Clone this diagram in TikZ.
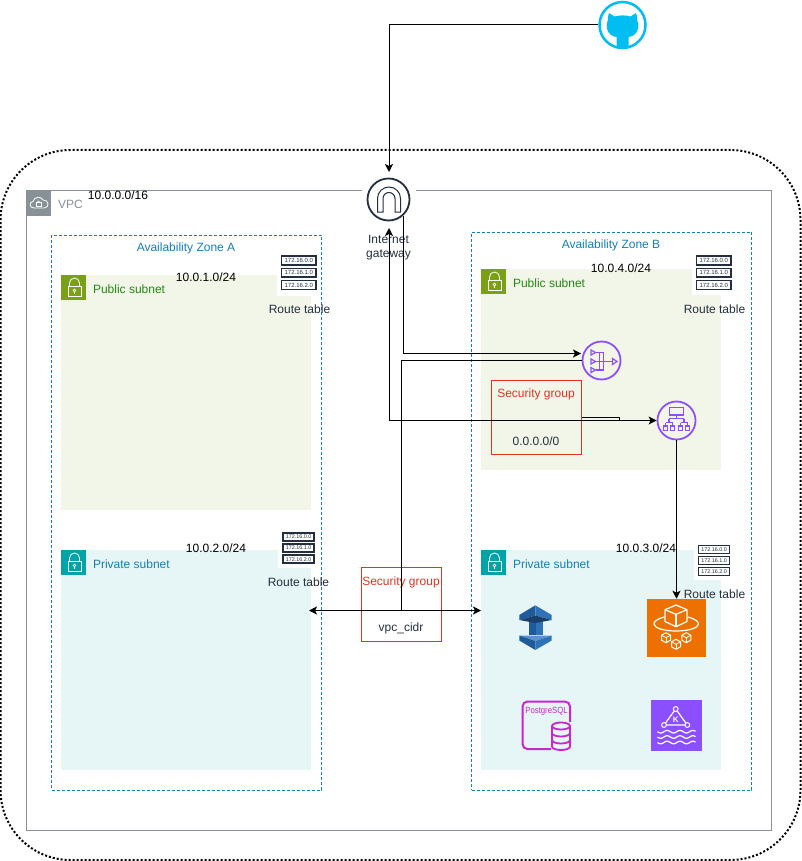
\documentclass[tikz,border=0pt]{standalone}
\usepackage{fontspec}
\setmainfont{Liberation Sans}
\newfontfamily\pgnarrow[FakeStretch=0.86]{Liberation Sans}
\usetikzlibrary{arrows.meta}
\definecolor{vpcgray}{HTML}{879196}
\definecolor{azblue}{HTML}{147EBA}
\definecolor{pubgreen}{HTML}{7AA116}
\definecolor{pubtext}{HTML}{248814}
\definecolor{pubfill}{HTML}{F2F6E8}
\definecolor{privteal}{HTML}{00A4A6}
\definecolor{privfill}{HTML}{E6F6F7}
\definecolor{awsdark}{HTML}{232F3E}
\definecolor{sgred}{HTML}{DD3522}
\definecolor{netpurple}{HTML}{8C4FFF}
\definecolor{ghblue}{HTML}{00BEF2}
\definecolor{ecsorange}{HTML}{ED7100}
\definecolor{pgpink}{HTML}{C925D1}
\definecolor{stackdark}{HTML}{205B99}
\definecolor{stackmid}{HTML}{2E73B8}
\definecolor{stacknavy}{HTML}{1B3F6B}
\definecolor{stacklight}{HTML}{5B94CC}
\tikzset{
    box/.style={rectangle,inner sep=0pt,outer sep=0pt},
    txt/.style={inner sep=0pt,outer sep=0pt,font=\fontsize{12}{14}\selectfont},
    azbox/.style={box,draw=azblue,line width=0.8pt,dash pattern=on 3pt off 2pt},
    sgbox/.style={box,draw=sgred,line width=1pt},
    conn/.style={line width=1pt,black,-{Stealth[length=8pt,width=8pt,inset=2pt]}},
    both/.style={conn,{Stealth[length=8pt,width=8pt,inset=2pt]}-{Stealth[length=8pt,width=8pt,inset=2pt]}}
}
% subnet corner with its lock
\newcommand{\subneticon}[3]{
    \begin{scope}[shift={(#1,#2)}]
        \fill[#3] (0,0) rectangle (25,25);
        \draw[white,line width=0.8pt] (7,11.5) rectangle (20,21.5);
        \draw[white,line width=0.8pt] (8.5,11.5) -- (8.5,8) arc[start angle=180,end angle=360,radius=5] -- (18.5,11.5);
        \draw[white,line width=0.7pt] (13.5,15.5) circle (1.4);
        \draw[white,line width=0.7pt] (13.5,17) -- (13.5,19);
    \end{scope}
}
% route table stack, #1 name, #2 #3 corner, #4 scale
\newcommand{\routetable}[4]{
    \begin{scope}[shift={(#2,#3)},scale=#4,transform shape]
        \foreach \r in {0,1,2} {
            \node[box,draw=awsdark,line width=1.5pt,fill=white,text=awsdark,minimum width=34.5pt,minimum height=8.8pt,
                font=\fontsize{6}{6}\selectfont] (#1\r) at (17.8,{5+12.3*\r}) {172.16.\r.0};
        }
    \end{scope}
}
\begin{document}
\begin{tikzpicture}[x=1pt,y=-1pt]
    \useasboundingbox (0,0) rectangle (802,861);

    % Outer boundary and VPC
    \node[box,draw=black,line width=2pt,dash pattern=on 2pt off 2pt,rounded corners=70pt,
        minimum width=800pt,minimum height=710pt] (boundary) at (400.5,505) {};
    \node[box,draw=vpcgray,line width=1pt,minimum width=745pt,minimum height=640pt] (vpc) at (399,510.5) {};
    \fill[vpcgray] (26.5,190.5) rectangle (51,215.5);
    \draw[white,line width=0.8pt] (34,208) .. controls (29,208) and (29,202) .. (33,201.5) .. controls (34,197) and (41,195.5) .. (43,200) .. controls (49,199.5) and (50,208) .. (44,208) -- cycle;
    \draw[white,line width=0.7pt] (36,202.5) rectangle (41,206.5);
    \draw[white,line width=0.6pt] (37,202.5) arc[start angle=180,end angle=360,radius=1.5];
    \node[txt,text=vpcgray,anchor=west] (vpclabel) at (58,204) {VPC};
    \node[txt] (vpccidr) at (118,195) {10.0.0.0/16};

    % Availability zones
    \node[azbox,minimum width=270pt,minimum height=555pt] (azA) at (186.5,512.5) {};
    \node[azbox,minimum width=280pt,minimum height=558pt] (azB) at (611.5,511) {};
    \node[txt,text=azblue] (azAlabel) at (186,248) {Availability Zone A};
    \node[txt,text=azblue] (azBlabel) at (611,245) {Availability Zone B};

    % Subnets
    \node[box,fill=pubfill,minimum width=250pt,minimum height=235pt] (pubA) at (186,392.5) {};
    \node[box,fill=pubfill,minimum width=240pt,minimum height=201pt] (pubB) at (601,369.5) {};
    \node[box,fill=privfill,minimum width=250pt,minimum height=220pt] (privA) at (186,660) {};
    \node[box,fill=privfill,minimum width=240pt,minimum height=220pt] (privB) at (601,660) {};
    \fill[white] (277,275) rectangle (311.5,296);
    \fill[white] (692,269) rectangle (721.5,295);
    \fill[white] (278,550) rectangle (311.5,568);
    \fill[white] (694,550) rectangle (721.5,580);
    \subneticon{61}{275}{pubgreen}
    \subneticon{481}{269}{pubgreen}
    \subneticon{61}{550}{privteal}
    \subneticon{481}{550}{privteal}
    \node[txt,text=pubtext,anchor=west] (pubAlabel) at (93,289) {Public subnet};
    \node[txt,text=pubtext,anchor=west] (pubBlabel) at (513,283) {Public subnet};
    \node[txt,text=azblue,anchor=west] (privAlabel) at (93,564) {Private subnet};
    \node[txt,text=azblue,anchor=west] (privBlabel) at (513,564) {Private subnet};
    \node[txt] (pubAcidr) at (206,277) {10.0.1.0/24};
    \node[txt] (pubBcidr) at (621,268) {10.0.4.0/24};
    \node[txt] (privAcidr) at (216,548) {10.0.2.0/24};
    \node[txt] (privBcidr) at (646,548) {10.0.3.0/24};

    % Route tables
    \routetable{rtA}{281}{255.5}{1}
    \routetable{rtB}{696}{255.5}{1}
    \routetable{rtC}{282.5}{532.5}{0.9}
    \routetable{rtD}{698}{545}{0.9}
    \node[txt,text=awsdark] (rtAlabel) at (299.5,309) {Route table};
    \node[txt,text=awsdark] (rtBlabel) at (714.5,309) {Route table};
    \node[txt,text=awsdark] (rtClabel) at (298.5,582) {Route table};
    \node[txt,text=awsdark] (rtDlabel) at (714.5,594) {Route table};

    % Security groups
    \node[sgbox,minimum width=90pt,minimum height=74pt] (sgpub) at (536.5,417.5) {};
    \node[sgbox,minimum width=80pt,minimum height=74pt] (sgmid) at (401.5,604.5) {};
    \node[txt,text=sgred] (sgpublabel) at (536,394) {Security group};
    \node[txt,text=sgred] (sgmidlabel) at (401,582) {Security group};
    \node[txt,text=awsdark] (sgpubcidr) at (536,441) {0.0.0.0/0};
    \node[txt,text=awsdark] (sgmidcidr) at (401,628) {vpc\_cidr};

    % Github
    \node[circle,draw=ghblue,fill=white,line width=2.5pt,minimum size=46pt,inner sep=0pt,outer sep=1.2pt] (github) at (622.5,25) {};
    \fill[ghblue] (609,13) -- (614.5,16.5) .. controls (619,15) and (626,15) .. (630.5,16.5) -- (636,13) .. controls (637,16) and (637.5,18) .. (637,20) .. controls (640,26) and (638,36) .. (628.5,37) -- (628.5,48) .. controls (625,49) and (620,49) .. (616.5,48) -- (616.5,37) .. controls (607,36) and (605,26) .. (608,20) .. controls (607.5,18) and (608,16) .. (609,13) -- cycle;

    % Internet gateway
    \node[box,fill=white,minimum width=54pt,minimum height=56pt] (igw) at (389,200) {};
    \draw[awsdark,line width=1.8pt] (388.5,199.5) circle (21);
    \draw[awsdark,line width=1pt] (377.5,212) -- (377.5,198.5) arc[start angle=180,end angle=360,radius=11.5] -- (400.5,212) -- (395,212) -- (395,198.5) arc[start angle=360,end angle=180,radius=6] -- (383,212) -- cycle;
    \node[txt,text=awsdark,align=center] (igwlabel) at (388.5,248) {Internet\\gateway};

    % NAT gateway
    \node[circle,draw=netpurple,line width=1.8pt,minimum size=38pt,inner sep=0pt,outer sep=0.9pt] (nat) at (601.5,360.5) {};
    \foreach \y in {352.5,361.5,370} {
        \draw[netpurple,line width=1.2pt] (591,\y-2.5) -- (595.5,\y) -- (591,\y+2.5) -- cycle;
        \draw[netpurple,line width=1.2pt] (595.5,\y) -- (603.5,\y);
    }
    \draw[netpurple,line width=1.2pt] (599.5,352.5) -- (599.5,370);
    \draw[netpurple,line width=1.2pt] (603.5,352.5) -- (603.5,370);
    \draw[netpurple,line width=1.2pt] (603.5,361.5) -- (612.5,361.5);
    \draw[netpurple,line width=1.2pt] (612.5,358.5) -- (617,361.5) -- (612.5,364.5) -- cycle;

    % Load balancer
    \node[circle,draw=netpurple,line width=1.8pt,minimum size=38pt,inner sep=0pt,outer sep=0.9pt] (alb) at (676.5,420.5) {};
    \draw[netpurple,line width=1.2pt] (669.5,407.5) rectangle (683.5,415);
    \draw[netpurple,line width=1.2pt] (676.5,415) -- (676.5,418.5);
    \draw[netpurple,line width=1.2pt] (669,418.5) -- (684,418.5);
    \foreach \x in {669,684} {
        \draw[netpurple,line width=1.2pt] (\x,418.5) -- (\x,422.5);
        \draw[netpurple,line width=1.2pt] (\x-3.5,422.5) -- (\x+3.5,422.5);
        \draw[netpurple,line width=1.2pt] (\x-3.5,422.5) -- (\x-3.5,426);
        \draw[netpurple,line width=1.2pt] (\x+3.5,422.5) -- (\x+3.5,426);
        \draw[netpurple,line width=1.2pt] (\x-5.5,426) rectangle (\x-1.5,430.5);
        \draw[netpurple,line width=1.2pt] (\x+1.5,426) rectangle (\x+5.5,430.5);
    }

    % Blue stack
    \fill[stackdark] (528.5,620) rectangle (535.5,634.5);
    \fill[stackmid] (535.5,620) rectangle (542.5,634.5);
    \fill[stackdark] (535.3,605.3) -- (519.3,615) -- (519.3,620) -- (535.3,615.5) -- cycle;
    \fill[stackmid] (535.3,605.3) -- (551.7,615) -- (551.7,620) -- (535.3,615.5) -- cycle;
    \fill[stacknavy] (519.3,620) -- (535.3,615.5) -- (551.7,620) -- (535.3,623) -- cycle;
    \fill[stacklight] (519.3,635.5) -- (551.7,635.5) -- (535.3,641) -- cycle;
    \fill[stackdark] (519.3,635.5) -- (519.3,640.5) -- (535.3,650) -- (535.3,641) -- cycle;
    \fill[stackmid] (551.7,635.5) -- (551.7,640.5) -- (535.3,650) -- (535.3,641) -- cycle;

    % Orange tile
    \node[box,fill=ecsorange,minimum width=58.5pt,minimum height=58.5pt] (ecs) at (676.5,628) {};
    \draw[white,line width=1.2pt,line join=round] (676,605) -- (687,609.7) -- (687,621.5) -- (676,626.7) -- (665,621.5) -- (665,609.7) -- cycle;
    \draw[white,line width=1.2pt] (665,609.7) -- (676,614.3) -- (687,609.7);
    \draw[white,line width=1.2pt] (676,614.3) -- (676,626.7);
    \draw[white,line width=1.2pt] (664.5,617) .. controls (656,619) and (654,622) .. (654,624) .. controls (654,628) and (664,631) .. (676,631) .. controls (688,631) and (698.5,628) .. (698.5,624) .. controls (698.5,622) and (696,619) .. (687.5,617);
    \foreach \x/\y in {666/637.7,686.3/637.7,676/644.3} {
        \draw[white,line width=1pt,line join=round] (\x,\y-5) -- (\x+4.5,\y-2.5) -- (\x+4.5,\y+2.5) -- (\x,\y+5) -- (\x-4.5,\y+2.5) -- (\x-4.5,\y-2.5) -- cycle;
        \draw[white,line width=0.8pt] (\x-4.5,\y-2.5) -- (\x,\y) -- (\x+4.5,\y-2.5);
        \draw[white,line width=0.8pt] (\x,\y) -- (\x,\y+5);
    }

    % Postgres
    \draw[pgpink,line width=2pt,rounded corners=5pt] (570,722) -- (570,701.5) -- (522.5,701.5) -- (522.5,749) -- (551,749);
    \node[txt,text=pgpink,font=\pgnarrow\fontsize{9}{9}\selectfont] (pglabel) at (546.5,711.5) {PostgreSQL};
    \fill[privfill] (552,725.5) rectangle (570,748);
    \draw[pgpink,line width=1.8pt] (552,726) -- (552,746.5) arc[start angle=180,end angle=0,x radius=9,y radius=3.5] -- (570,726);
    \draw[pgpink,line width=1.8pt] (561,726) ellipse (9 and 3.5);
    \foreach \y in {733,740} {
        \draw[pgpink,line width=1.8pt] (552,\y) arc[start angle=180,end angle=0,x radius=9,y radius=3.5];
    }

    % Kafka tile
    \node[box,fill=netpurple,minimum width=50.5pt,minimum height=50.5pt] (kafka) at (676.5,725.5) {};
    \draw[white,line width=1.2pt] (675.7,709) -- (687.3,725) -- (664,725) -- cycle;
    \foreach \x/\y in {675.7/709,687.3/725,664/725} {
        \draw[white,fill=netpurple,line width=1pt] (\x,\y) circle (2.4);
    }
    \node[inner sep=0pt,text=white,font=\fontsize{8}{8}\bfseries\selectfont] (kafkak) at (675.7,719.5) {K};
    \foreach \y in {731.7,737,742.5} {
        \draw[white,line width=1.2pt,smooth] plot[domain=0:38,samples=40] ({657.5+\x},{\y+1.3*sin(\x*28)});
    }

    % Connectors
    \coordinate (igwnat) at (403,216);
    \coordinate (natin) at (581,353.5);
    \coordinate (natjoin) at (401,610.5);
    \coordinate (albjoin) at (619,420.5);
    \coordinate (privAport) at (309,610.5);
    \coordinate (privBport) at (481,610.5);
    \draw[conn] (github.west) -| (igw.north);
    \draw[conn] (igwnat) |- (natin);
    \draw[both] (igw.south) |- (alb.west);
    \draw[line width=1pt] (nat.west) -| (natjoin);
    \draw[line width=1pt] (sgpub.east) -| (albjoin);
    \draw[conn] (alb.south) -- (ecs.north);
    \draw[both] (privAport) -- (privBport);
\end{tikzpicture}
\end{document}
